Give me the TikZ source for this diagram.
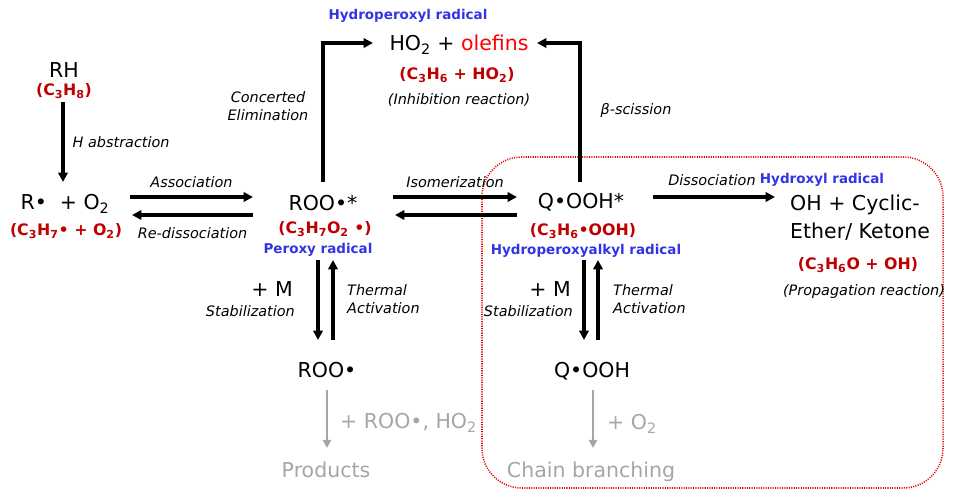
\documentclass[tikz,border=0pt]{standalone}
\usepackage{fontspec}
\setmainfont{DejaVu Sans}
\definecolor{formred}{RGB}{192, 0, 0}
\definecolor{olefred}{RGB}{255, 0, 0}
\definecolor{radblue}{RGB}{51, 51, 230}
\definecolor{sidegray}{RGB}{166, 166, 166}
\definecolor{boxred}{RGB}{230, 0, 0}
\usetikzlibrary{arrows.meta}
\newcommand{\ssub}[1]{\textsubscript{#1}}

\tikzset{
  species/.style={inner sep=0pt, font=\fontsize{17.5}{21}\selectfont},
  formula/.style={inner sep=0pt, text=formred, font=\fontsize{13.5}{16}\selectfont\bfseries},
  radname/.style={inner sep=0pt, text=radblue, font=\fontsize{11.5}{14}\selectfont\bfseries},
  rxnlabel/.style={inner sep=0pt, font=\fontsize{12.3}{16}\selectfont\itshape},
  sidetext/.style={inner sep=0pt, text=sidegray, font=\fontsize{17.5}{21}\selectfont},
  rxn/.style={line width=2.6pt, -{Triangle[length=8pt, width=8pt]}},
  siderxn/.style={line width=1.8pt, draw=sidegray, -{Triangle[length=7pt, width=7pt]}}
}

\begin{document}
\begin{tikzpicture}[x=0.03cm, y=-0.03cm]
  \useasboundingbox (0,0) rectangle (955,499);

  % QOOH region
  \draw[boxred, line width=1.3pt, dash pattern=on 0.9pt off 1.1pt, rounded corners=34] (482,157) rectangle (943,488);

  % Propane
  \node[species] (rh) at (64,70) {RH};
  \node[formula] (rhf) at (64,91) {(C\ssub{3}H\ssub{8})};
  \node[species] (rO2) at (65,204) {R•\ \ + O\ssub{2}};
  \node[formula] (rO2f) at (66,231) {(C\ssub{3}H\ssub{7}• + O\ssub{2})};

  % Peroxy radical
  \node[species] (roo) at (323,203) {ROO•*};
  \node[formula] (roof) at (325,229) {(C\ssub{3}H\ssub{7}O\ssub{2} •)};
  \node[radname] (roon) at (318,250) {Peroxy radical};

  % Inhibition products
  \node[radname] (hon) at (408,16) {Hydroperoxyl radical};
  \node[species] (ho) at (459,45) {HO\ssub{2} + \textcolor{olefred}{olefins}};
  \node[formula] (hof) at (457,75) {(C\ssub{3}H\ssub{6} + HO\ssub{2})};
  \node[rxnlabel] (hoi) at (459,100) {(Inhibition reaction)};

  % Hydroperoxyalkyl radical
  \node[species] (qooh) at (581,202) {Q•OOH*};
  \node[formula] (qoohf) at (583,231) {(C\ssub{3}H\ssub{6}•OOH)};
  \node[radname] (qoohn) at (586,251) {Hydroperoxyalkyl radical};

  % Propagation products
  \node[species, align=left, anchor=west, font=\fontsize{17.5}{24}\selectfont] (oh) at (790,218) {OH + Cyclic-\\Ether/ Ketone};
  \node[formula] (ohf) at (858,265) {(C\ssub{3}H\ssub{6}O + OH)};
  \node[rxnlabel] (ohp) at (864,292) {(Propagation reaction)};

  % Stabilized radicals
  \node[species] (rooS) at (327,370) {ROO•};
  \node[species] (qS) at (592,371) {Q•OOH};
  \node[sidetext] (prod) at (326,470) {Products};
  \node[sidetext] (chain) at (591,472) {Chain branching};

  % Reactions
  \draw[rxn] ([shift={(-1,11)}]rhf.center) -- node[rxnlabel, anchor=west, xshift=7pt] {H abstraction} ([shift={(-2,-22)}]rO2.center);
  \draw[rxn] ([shift={(65,-7)}]rO2.center) -- node[rxnlabel, above=7pt] {Association} ([shift={(-70,-6)}]roo.center);
  \draw[rxn] ([shift={(-70,12)}]roo.center) -- node[rxnlabel, below=9pt] {Re-dissociation} ([shift={(67,11)}]rO2.center);
  \draw[rxn] ([shift={(0,-21)}]roo.center) |- ([shift={(-86,-2)}]ho.center);
  \node[rxnlabel, align=center] (conc) at (268,106) {Concerted\\Elimination};
  \draw[rxn] ([shift={(-1,-20)}]qooh.center) |- ([shift={(78,-2)}]ho.center);
  \node[rxnlabel] (beta) at (636,110) {β-scission};
  \draw[rxn] ([shift={(70,-6)}]roo.center) -- node[rxnlabel, above=7pt] {Isomerization} ([shift={(-64,-5)}]qooh.center);
  \draw[rxn] ([shift={(-64,13)}]qooh.center) -- ([shift={(72,12)}]roo.center);
  \draw[rxn] ([shift={(72,-5)}]qooh.center) -- ([shift={(-15,-21)}]oh.west);
  \node[rxnlabel] (diss) at (712,180) {Dissociation};
  \node[radname] (ohn) at (822,180) {Hydroxyl radical};

  % Stabilization / activation of ROO
  \draw[rxn] ([shift={(-5,57)}]roo.center) -- ([shift={(-9,-30)}]rooS.center);
  \draw[rxn] ([shift={(6,-30)}]rooS.center) -- ([shift={(10,57)}]roo.center);
  \node[species, anchor=east] (m1) at (293,289) {+ M};
  \node[rxnlabel, anchor=east] (stab1) at (295,311) {Stabilization};
  \node[rxnlabel, align=left, anchor=west] (act1) at (347,299) {Thermal\\Activation};

  % Stabilization / activation of QOOH
  \draw[rxn] ([shift={(3,58)}]qooh.center) -- ([shift={(-8,-31)}]qS.center);
  \draw[rxn] ([shift={(6,-31)}]qS.center) -- ([shift={(17,58)}]qooh.center);
  \node[species, anchor=east] (m2) at (571,289) {+ M};
  \node[rxnlabel, anchor=east] (stab2) at (573,311) {Stabilization};
  \node[rxnlabel, align=left, anchor=west] (act2) at (613,299) {Thermal\\Activation};

  % Side channels
  \draw[siderxn] ([shift={(0,20)}]rooS.center) -- ([shift={(1,-22)}]prod.center);
  \node[sidetext, anchor=west] (side1) at (340,423) {+ ROO•, HO\ssub{2}};
  \draw[siderxn] ([shift={(1,19)}]qS.center) -- ([shift={(2,-24)}]chain.center);
  \node[sidetext, anchor=west] (side2) at (607,424) {+ O\ssub{2}};
\end{tikzpicture}
\end{document}
